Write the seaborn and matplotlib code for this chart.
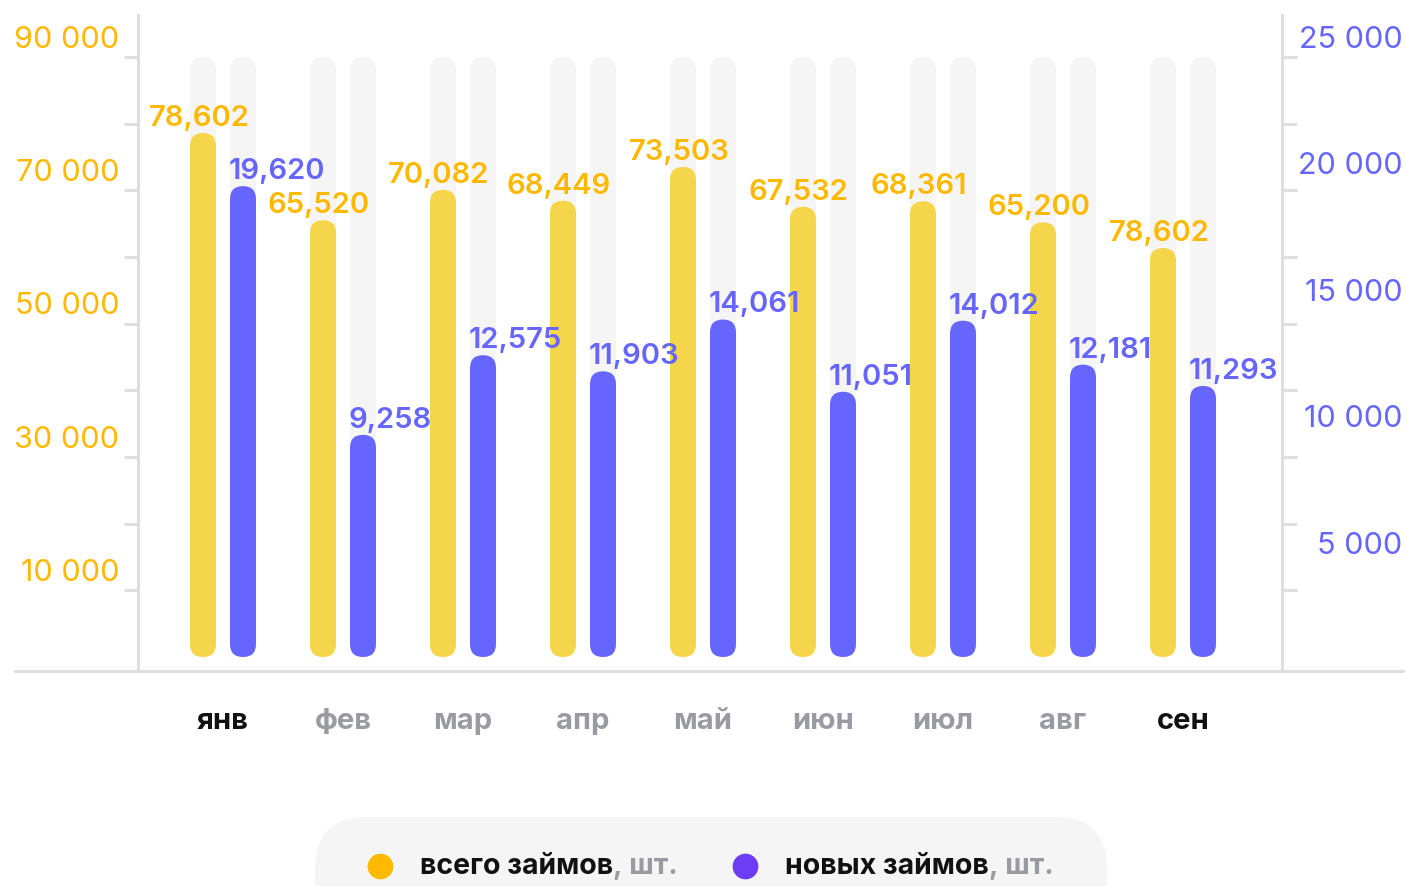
import numpy as np
import pandas as pd
import seaborn as sns
import matplotlib
matplotlib.use("Agg")
import matplotlib.pyplot as plt
from matplotlib.patches import FancyBboxPatch
from matplotlib.lines import Line2D
from matplotlib.text import Annotation
import matplotlib.transforms as mtransforms

# ---------------- data ----------------
months = ["янв", "фев", "мар", "апр", "май", "июн", "июл", "авг", "сен"]
highlight_months = ["янв", "сен"]
total_loans = [78602, 65520, 70082, 68449, 73503, 67532, 68361, 65200, 61350]
total_labels = ["78,602", "65,520", "70,082", "68,449", "73,503", "67,532", "68,361", "65,200", "78,602"]
new_loans = [19620, 9258, 12575, 11903, 14061, 11051, 14012, 12181, 11293]
new_labels = ["19,620", "9,258", "12,575", "11,903", "14,061", "11,051", "14,012", "12,181", "11,293"]
left_max = 90000
right_max = 25000
left_ticks = [10000, 20000, 30000, 40000, 50000, 60000, 70000, 80000, 90000]
left_tick_labels = ["10 000", "", "30 000", "", "50 000", "", "70 000", "", "90 000"]
right_labels = ["25 000", "20 000", "15 000", "10 000", "5 000"]
right_label_pos = [25730, 20480, 15200, 9950, 4650]
legend_names = ["всего займов", "новых займов"]
legend_unit = ", шт."

# ---------------- style ----------------
YELLOW_BAR = "#F5D54A"
YELLOW_TXT = "#FFB800"
PURPLE_BAR = "#6666FF"
PURPLE_TXT = "#6666FF"
BG_BAR = "#F5F5F5"
AXIS_COL = "#DEDEDE"
GRAY_TXT = "#9A9AA2"

sns.set_theme(style="white")
plt.rcParams['font.family'] = ['Inter', 'DejaVu Sans']

W, H = 1406, 887
fig = plt.figure(figsize=(W / 100, H / 100), dpi=100)
ax = fig.add_axes([138 / W, 1 - 672 / H, (1282 - 138) / W, (672 - 16) / H])
ax2 = ax.twinx()

x = np.arange(len(months))
off = 1 / 6
bw = 26 / 120
XLIM = (-0.7083, 8.825)
YLIM = (-2100, 96300)
YLIM2 = (YLIM[0] * right_max / left_max, YLIM[1] * right_max / left_max)


def draw_bars(axis, xs, vals, color, z):
    n = len(axis.patches)
    sns.barplot(x=list(xs), y=list(vals), native_scale=True, width=bw, color=color,
                saturation=1, errorbar=None, ax=axis)
    return axis.patches[n:], color, z


groups = []
groups.append((ax,) + draw_bars(ax, x - off, [left_max] * len(x), BG_BAR, 1))
groups.append((ax,) + draw_bars(ax, x + off, [left_max] * len(x), BG_BAR, 1))
groups.append((ax,) + draw_bars(ax, x - off, total_loans, YELLOW_BAR, 2))
groups.append((ax2,) + draw_bars(ax2, x + off, new_loans, PURPLE_BAR, 3))

for a, yl in ((ax, YLIM), (ax2, YLIM2)):
    a.set_xlim(*XLIM)
    a.set_ylim(*yl)
    a.set_xlabel("")
    a.set_ylabel("")

# replace rectangles by rounded bars
for axis, patches, color, z in groups:
    bb = axis.get_window_extent()
    x0, x1 = axis.get_xlim()
    y0, y1 = axis.get_ylim()
    aspect = ((y1 - y0) / bb.height) / ((x1 - x0) / bb.width)
    for p in patches:
        px, py, w, h = p.get_x(), p.get_y(), p.get_width(), p.get_height()
        p.set_visible(False)
        axis.add_patch(FancyBboxPatch((px, py), w, h,
                                      boxstyle=f"round,pad=0,rounding_size={w / 2}",
                                      mutation_aspect=aspect, fc=color, ec="none", zorder=z))

# value labels
for xi, v, lab in zip(x, total_loans, total_labels):
    ax.annotate(lab, xy=(xi - off, v), xytext=(-3, 5.8), textcoords="offset points",
                ha="center", va="baseline", color=YELLOW_TXT, fontsize=21,
                fontweight="semibold", zorder=5)
for xi, v, lab in zip(x, new_loans, new_labels):
    ax2.annotate(lab, xy=(xi + off - bw / 2, v), xytext=(-1, 5.8), textcoords="offset points",
                 ha="left", va="baseline", color=PURPLE_TXT, fontsize=21,
                 fontweight="semibold", zorder=5)

# spines
for s in ["top", "bottom", "right"]:
    ax.spines[s].set_visible(False)
ax.spines["left"].set_color(AXIS_COL)
ax.spines["left"].set_linewidth(2.2)
for s in ["top", "bottom", "left"]:
    ax2.spines[s].set_visible(False)
ax2.spines["right"].set_visible(True)
ax2.spines["right"].set_color(AXIS_COL)
ax2.spines["right"].set_linewidth(2.2)

# y ticks (marks only) + labels as text
ax.set_yticks(left_ticks)
ax.set_yticklabels([])
ax.tick_params(axis="y", left=True, length=10.2, width=2.2, color=AXIS_COL, direction="out")
ax2.set_yticks([t * right_max / left_max for t in left_ticks])
ax2.set_yticklabels([])
ax2.tick_params(axis="y", right=True, length=10.8, width=2.2, color=AXIS_COL, direction="out")

trL = mtransforms.blended_transform_factory(ax.transAxes, ax.transData)
for t, lab in zip(left_ticks, left_tick_labels):
    if lab:
        ax.annotate(lab, xy=(0, t), xycoords=trL, xytext=(-13.5, 13.2), textcoords="offset points",
                    ha="right", va="center", color=YELLOW_TXT, fontsize=22, annotation_clip=False)
trR = mtransforms.blended_transform_factory(ax2.transAxes, ax2.transData)
for pos, lab in zip(right_label_pos, right_labels):
    ax2.annotate(lab, xy=(1, pos), xycoords=trR, xytext=(86.6, 0), textcoords="offset points",
                 ha="right", va="center", color=PURPLE_TXT, fontsize=22, annotation_clip=False)

# x labels
ax.set_xticks(x)
ax.set_xticklabels(months)
ax.tick_params(axis="x", length=0, pad=35.5)
for lbl in ax.get_xticklabels():
    lbl.set_va("center")
    lbl.set_fontsize(21)
    lbl.set_fontweight("bold")
    lbl.set_color("#111111" if lbl.get_text() in highlight_months else GRAY_TXT)
ax2.tick_params(axis="x", bottom=False, top=False, labelbottom=False, labeltop=False)
ax.grid(False)
ax2.grid(False)

# baseline
fig.add_artist(Line2D([15 / W, 1403 / W], [1 - 672 / H] * 2, color=AXIS_COL, lw=2.2,
                      transform=fig.transFigure))

# legend
fig.add_artist(FancyBboxPatch((315 / W, (887 - 940) / H), (1107 - 315) / W, (940 - 818) / H,
                              boxstyle=f"round,pad=0,rounding_size={52 / W}",
                              mutation_aspect=W / H, transform=fig.transFigure,
                              fc="#F5F5F5", ec="none", zorder=1))
leg_colors = ["#FFBA00", "#6E3CF5"]
dot_x = [380, 745]
text_x = [420, 785]
ly = 1 - 867 / H
for name, c, dx, tx in zip(legend_names, leg_colors, dot_x, text_x):
    fig.add_artist(Line2D([dx / W], [ly], marker="o", ms=17.5, color=c, lw=0,
                          transform=fig.transFigure, zorder=4))
    t = fig.text(tx / W, ly, name, ha="left", va="center", fontsize=20.5,
                 fontweight="bold", color="#111111", zorder=5)
    unit = Annotation(legend_unit, xy=(1, 0.5), xycoords=t, ha="left", va="center",
                      fontsize=20.5, fontweight="bold", color=GRAY_TXT,
                      annotation_clip=False)
    unit.set_zorder(5)
    fig.add_artist(unit)

fig.savefig("out.png", dpi=100)
